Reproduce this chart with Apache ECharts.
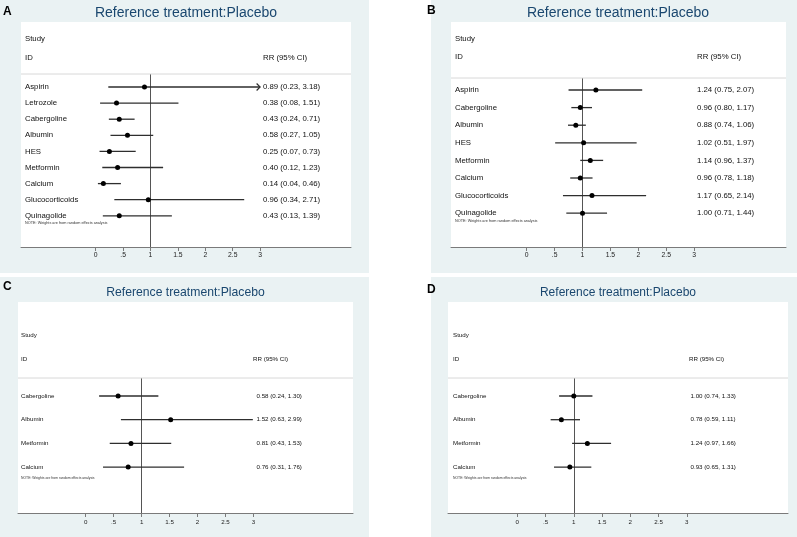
<!DOCTYPE html>
<html>
<head>
<meta charset="utf-8">
<script src="https://cdn.jsdelivr.net/npm/echarts@6/dist/echarts.min.js"></script>
<style>html,body{margin:0;padding:0;background:#fff;}#c{width:797px;height:537px;}</style>
</head>
<body>
<div id="c"></div>
<script>
// ---------- DATA ----------
const namesA = ['Aspirin','Letrozole','Cabergoline','Albumin','HES','Metformin','Calcium','Glucocorticoids','Quinagolide'];
const estA = [0.89,0.38,0.43,0.58,0.25,0.40,0.14,0.96,0.43];
const loA  = [0.23,0.08,0.24,0.27,0.07,0.12,0.04,0.34,0.13];
const hiA  = [3.18,1.51,0.71,1.05,0.73,1.23,0.46,2.71,1.39];

const namesB = ['Aspirin','Cabergoline','Albumin','HES','Metformin','Calcium','Glucocorticoids','Quinagolide'];
const estB = [1.24,0.96,0.88,1.02,1.14,0.96,1.17,1.00];
const loB  = [0.75,0.80,0.74,0.51,0.96,0.78,0.65,0.71];
const hiB  = [2.07,1.17,1.06,1.97,1.37,1.18,2.14,1.44];

const namesC = ['Cabergoline','Albumin','Metformin','Calcium'];
const estC = [0.58,1.52,0.81,0.76];
const loC  = [0.24,0.63,0.43,0.31];
const hiC  = [1.30,2.99,1.53,1.76];

const namesD = ['Cabergoline','Albumin','Metformin','Calcium'];
const estD = [1.00,0.78,1.24,0.93];
const loD  = [0.74,0.59,0.97,0.65];
const hiD  = [1.33,1.11,1.66,1.31];

const tickValues = [0,0.5,1,1.5,2,2.5,3];
const tickLabels = ['0','.5','1','1.5','2','2.5','3'];
const refValue = 1;
const titleText = 'Reference treatment:Placebo';
const noteText = 'NOTE: Weights are from random effects analysis';

// ---------- LAYOUT ----------
const FONT = '"Liberation Sans", Arial, sans-serif';
const panels = [
  {letter:'A', names:namesA, est:estA, lo:loA, hi:hiA,
   bg:[0,0,369,273], box:[21,22,330,225], x0:95.7, unit:54.8, row0:87, step:16.1,
   studyY:39, idY:58, sepY:74, nameX:25, hdrX:263, valX:263, noteY:223,
   titleX:186, titleY:13, titleFs:14, letterX:3, letterY:12, fs:7.8, tickFs:6.8, noteFs:3.8, r:2.5, tickLen:4, labMargin:5},
  {letter:'B', names:namesB, est:estB, lo:loB, hi:hiB,
   bg:[431,0,366,273], box:[451,22,335,225], x0:526.7, unit:55.8, row0:90, step:17.6,
   studyY:39, idY:57, sepY:78, nameX:455, hdrX:697, valX:697, noteY:221,
   titleX:618, titleY:13, titleFs:14, letterX:427, letterY:11, fs:7.8, tickFs:6.8, noteFs:3.8, r:2.5, tickLen:4, labMargin:5},
  {letter:'C', names:namesC, est:estC, lo:loC, hi:hiC,
   bg:[0,277,369,260], box:[18,302,335,211], x0:85.7, unit:55.9, row0:396, step:23.7,
   studyY:335, idY:359, sepY:378, nameX:21, hdrX:253, valX:256.5, noteY:478,
   titleX:185.5, titleY:293, titleFs:12.2, letterX:3, letterY:287, fs:6.2, tickFs:6.2, noteFs:3.4, r:2.5, tickLen:4, labMargin:6},
  {letter:'D', names:namesD, est:estD, lo:loD, hi:hiD,
   bg:[431,277,366,260], box:[448,302,340,211], x0:517.3, unit:56.5, row0:396, step:23.7,
   studyY:335, idY:359, sepY:378, nameX:453, hdrX:689, valX:690.5, noteY:478,
   titleX:618, titleY:293, titleFs:12, letterX:427, letterY:290, fs:6.2, tickFs:6.2, noteFs:3.4, r:2.5, tickLen:4, labMargin:6}
];

const fmt = v => v.toFixed(2);
const capX = tickValues[tickValues.length-1];

const grids = [], xAxes = [], yAxes = [], series = [], graphics = [];

panels.forEach((P, k) => {
  const [bx, by, bw, bh] = P.box;
  const xMin = -(P.x0 - bx) / P.unit;
  const xMax = (bx + bw - P.x0) / P.unit;
  const yMin = (by - P.row0) / P.step;
  const yMax = (by + bh - P.row0) / P.step;
  const ySep = (P.sepY - P.row0) / P.step;

  grids.push({left:bx, top:by, width:bw, height:bh, show:true, backgroundColor:'#ffffff', borderWidth:0, z:1});
  xAxes.push({
    type:'value', gridIndex:k, min:xMin, max:xMax, position:'bottom',
    axisLine:{show:true, onZero:false, lineStyle:{color:'#7a7a7a', width:1}},
    axisTick:{show:true, length:P.tickLen, customValues:tickValues, lineStyle:{color:'#7a7a7a'}},
    axisLabel:{show:true, customValues:tickValues, margin:P.labMargin, fontSize:P.tickFs, fontFamily:FONT, color:'#222',
      formatter: v => { const idx = tickValues.findIndex(t => Math.abs(t - v) < 1e-9); return idx >= 0 ? tickLabels[idx] : ''; }},
    splitLine:{show:false}
  });
  yAxes.push({type:'value', gridIndex:k, min:yMin, max:yMax, inverse:true, show:false, splitLine:{show:false}});

  const data = P.names.map((n, i) => [i, P.est[i], P.lo[i], P.hi[i]]);
  series.push({
    type:'custom', xAxisIndex:k, yAxisIndex:k, z:5,
    encode:{x:[1,2,3], y:0},
    data: data,
    renderItem: (params, api) => {
      const i = api.value(0), est = api.value(1), lo = api.value(2), hi = api.value(3);
      const pLo = api.coord([lo, i]);
      const pHi = api.coord([Math.min(hi, capX), i]);
      const pE = api.coord([est, i]);
      const ch = [
        {type:'line', shape:{x1:pLo[0], y1:pLo[1], x2:pHi[0], y2:pHi[1]}, style:{stroke:'#2e2e2e', lineWidth:1.3}}
      ];
      if (hi > capX) {
        ch.push({type:'polyline', shape:{points:[[pHi[0]-3.5, pHi[1]-3.5],[pHi[0], pHi[1]],[pHi[0]-3.5, pHi[1]+3.5]]},
                 style:{stroke:'#2e2e2e', fill:null, lineWidth:1.2}});
      }
      ch.push({type:'circle', shape:{cx:pE[0], cy:pE[1], r:P.r}, style:{fill:'#000'}});
      ch.push({type:'text', x:P.nameX, y:pE[1], style:{text:P.names[i], fill:'#111', fontSize:P.fs, fontFamily:FONT, verticalAlign:'middle', align:'left'}});
      ch.push({type:'text', x:P.valX, y:pE[1], style:{text:fmt(est)+' ('+fmt(lo)+', '+fmt(hi)+')', fill:'#111', fontSize:P.fs, fontFamily:FONT, verticalAlign:'middle', align:'left'}});
      return {type:'group', children:ch};
    },
    markLine:{
      silent:true, symbol:['none','none'], animation:false, label:{show:false},
      lineStyle:{color:'#555', width:1, type:'solid'},
      data:[[{coord:[refValue, ySep]}, {coord:[refValue, yMax]}]]
    }
  });

  graphics.push({type:'rect', z:-10, shape:{x:P.bg[0], y:P.bg[1], width:P.bg[2], height:P.bg[3]}, style:{fill:'#eaf2f3'}});
  graphics.push({type:'text', z:10, x:P.titleX, y:P.titleY, style:{text:titleText, fill:'#1a476f', fontSize:P.titleFs, fontFamily:FONT, align:'center', verticalAlign:'middle'}});
  graphics.push({type:'text', z:10, x:P.letterX, y:P.letterY, style:{text:P.letter, fill:'#000', fontSize:12, fontWeight:'bold', fontFamily:FONT, align:'left', verticalAlign:'middle'}});
  graphics.push({type:'text', z:10, x:P.nameX, y:P.studyY, style:{text:'Study', fill:'#111', fontSize:P.fs, fontFamily:FONT, verticalAlign:'middle'}});
  graphics.push({type:'text', z:10, x:P.nameX, y:P.idY, style:{text:'ID', fill:'#111', fontSize:P.fs, fontFamily:FONT, verticalAlign:'middle'}});
  graphics.push({type:'text', z:10, x:P.hdrX, y:P.idY, style:{text:'RR (95% CI)', fill:'#111', fontSize:P.fs, fontFamily:FONT, verticalAlign:'middle'}});
  graphics.push({type:'line', z:10, shape:{x1:bx, y1:P.sepY, x2:bx+bw, y2:P.sepY}, style:{stroke:'#d8d8d8', lineWidth:1}});
  graphics.push({type:'text', z:10, x:P.nameX, y:P.noteY, style:{text:noteText, fill:'#333', fontSize:P.noteFs, fontFamily:FONT, verticalAlign:'middle'}});
});

const chart = echarts.init(document.getElementById('c'), null, {renderer:'canvas'});
chart.setOption({
  animation:false,
  backgroundColor:'#ffffff',
  grid:grids, xAxis:xAxes, yAxis:yAxes, series:series,
  graphic:{elements:graphics}
});
</script>
</body>
</html>
